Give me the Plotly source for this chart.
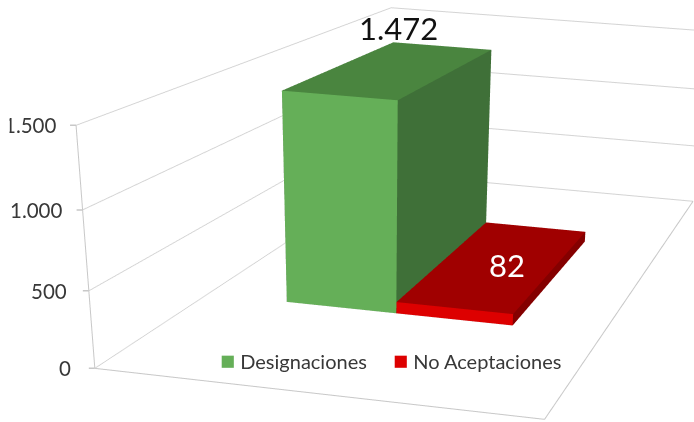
import plotly.graph_objects as go

categories = ["Designaciones", "No Aceptaciones"]
values = [1472, 82]
tick_values = [0, 500, 1000, 1500]
tick_labels = ["0", "500", "1.000", "1.500"]

FRONT = ["#65AF58", "#DD0000"]
TOP = ["#4A853F", "#A00000"]
SIDE = ["#3F7038", "#840000"]
GRID = "#D4D4D4"
FRAME = "#C8C8C8"
TEXT = "#383838"
FONT = "Lato, Carlito, sans-serif"

FIG_W, FIG_H = 1060, 1458        # scene canvas larger than the visible 694x422 crop
BAR_EDGES = [0.2058, 0.4872, 0.7797]
BAR_Y0, BAR_Y1 = 0.2925, 0.7008
ZMAX = 1500
LEGEND_X = [218, 391]
LEGEND_Y = 359
LABEL_SHIFT = [-22, -20, -18, -17]


def box(x0, x1, y0, y1, z1, front, top, side):
    xs = [x0, x1, x1, x0, x0, x1, x1, x0]
    ys = [y0, y0, y1, y1, y0, y0, y1, y1]
    zs = [0, 0, 0, 0, z1, z1, z1, z1]
    i = [0, 0, 4, 4, 1, 1, 3, 3, 0, 0, 0, 0]
    j = [1, 5, 5, 6, 2, 6, 2, 6, 3, 7, 1, 2]
    k = [5, 4, 6, 7, 6, 5, 6, 7, 7, 4, 2, 3]
    col = [front, front, top, top, side, side, side, side, side, side, side, side]
    return go.Mesh3d(x=xs, y=ys, z=zs, i=i, j=j, k=k, facecolor=col, flatshading=True,
                     lighting=dict(ambient=1, diffuse=0, specular=0, roughness=1, fresnel=0),
                     hoverinfo="skip", showlegend=False, showscale=False)


fig = go.Figure()

# Chart frame edges: front and right of the floor, left upright
for xs, ys, zs in [([0, 1], [0, 0], [0, 0]), ([1, 1], [0, 1], [0, 0]), ([0, 0], [0, 0], [0, ZMAX])]:
    fig.add_trace(go.Scatter3d(x=xs, y=ys, z=zs, mode="lines", line=dict(color=FRAME, width=2),
                               hoverinfo="skip", showlegend=False))

for n, v in enumerate(values):
    fig.add_trace(box(BAR_EDGES[n], BAR_EDGES[n + 1], BAR_Y0, BAR_Y1, v, FRONT[n], TOP[n], SIDE[n]))

annotations = []
for t, lab, shift in zip(tick_values, tick_labels, LABEL_SHIFT):
    annotations.append(dict(x=0, y=0, z=t, text=" ", showarrow=True, arrowhead=0, arrowwidth=1.5,
                            arrowcolor=FRAME, ax=-9, ay=0, standoff=0, startstandoff=0))
    annotations.append(dict(x=0, y=0, z=t, text=lab, showarrow=False, xanchor="right", xshift=shift,
                            font=dict(family=FONT, size=20.5, color=TEXT)))


def fmt(v):
    return f"{v:,}".replace(",", ".")


annotations.append(dict(x=(BAR_EDGES[0] + BAR_EDGES[1]) / 2, y=(BAR_Y0 + BAR_Y1) / 2, z=values[0],
                        text=fmt(values[0]), showarrow=False, xshift=3, yshift=41,
                        font=dict(family=FONT, size=31, color="#111111")))
annotations.append(dict(x=(BAR_EDGES[1] + BAR_EDGES[2]) / 2, y=(BAR_Y0 + BAR_Y1) / 2, z=values[1],
                        text=fmt(values[1]), showarrow=False, xshift=9, yshift=-1,
                        font=dict(family=FONT, size=31, color="#FFFFFF")))

off = dict(showgrid=False, showline=False, zeroline=False, showticklabels=False, ticks="",
           showbackground=False, showspikes=False, title=dict(text=""))

paper_notes = [dict(xref="paper", yref="paper", x=LEGEND_X[n] / FIG_W, y=1 - LEGEND_Y / FIG_H,
                    xanchor="left", yanchor="middle", showarrow=False, align="left",
                    text=f'<span style="color:{FRONT[n]};font-size:25px">■</span> {name}',
                    font=dict(family=FONT, size=20, color=TEXT))
               for n, name in enumerate(categories)]
# the reference crop cuts off the left of the top tick label
paper_notes.append(dict(xref="paper", yref="paper", x=0, y=1 - 127 / FIG_H, xanchor="left", yanchor="middle",
                        showarrow=False, text=" ", width=6, height=30, bgcolor="white"))

fig.update_layout(
    width=FIG_W, height=FIG_H, autosize=False,
    margin=dict(l=0, r=0, t=0, b=0, pad=0),
    paper_bgcolor="white",
    separators=",.",
    font=dict(family=FONT),
    showlegend=False,
    annotations=paper_notes,
    scene=dict(
        domain=dict(x=[0, 1], y=[0, 1]),
        aspectmode="manual",
        aspectratio=dict(x=0.7889, y=1.7766, z=0.3999),
        camera=dict(eye=dict(x=0.9331, y=-3.6082, z=0.7327),
                    center=dict(x=0.3777, y=-0.7981, z=-0.8278),
                    up=dict(x=-0.1008, y=0.2552, z=1),
                    projection=dict(type="perspective")),
        xaxis=dict(range=[0, 1], **off),
        yaxis=dict(range=[0, 1], **off),
        zaxis=dict(range=[0, ZMAX], tickvals=tick_values, showgrid=True, gridcolor=GRID, gridwidth=2,
                   showline=False, zeroline=False, showticklabels=False, showbackground=False,
                   showspikes=False, ticks="", title=dict(text="")),
        annotations=annotations,
    ),
)

post = """
document.documentElement.style.margin='0';document.documentElement.style.overflow='hidden';
document.body.style.margin='0';document.body.style.overflow='hidden';
var p=document.getElementById('{plot_id}').parentElement;
p.style.width='694px';p.style.height='422px';p.style.overflow='hidden';
"""
fig.write_html("out.html", config=dict(displayModeBar=False, responsive=False), post_script=post)
